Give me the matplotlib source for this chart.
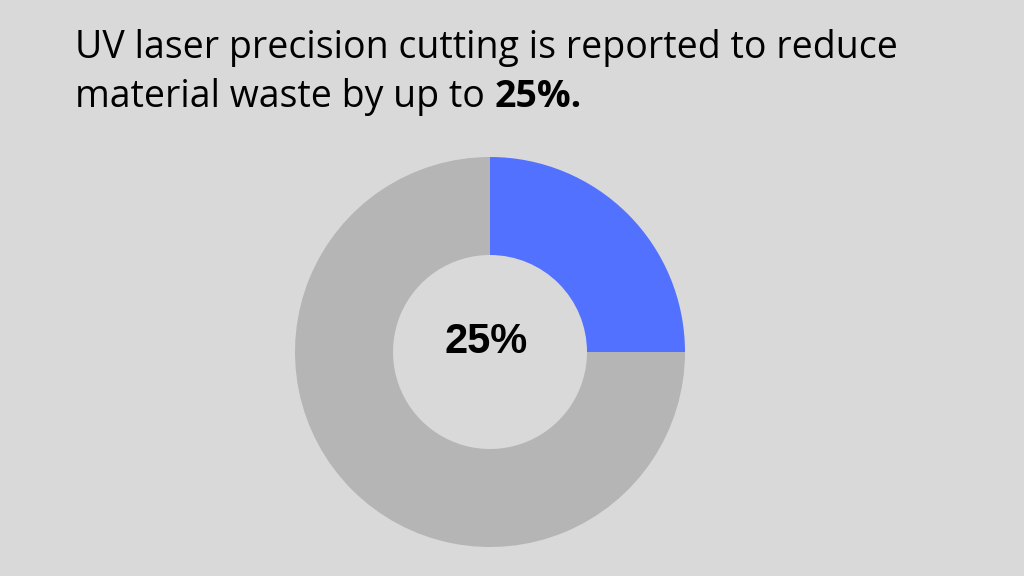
import matplotlib.pyplot as plt

# Anteile fuer den Donut
labels = ['Reduzierter Abfall', 'Rest']
werte = [25, 75]
farben = ['#5271ff', '#b5b5b5']
mitte_text = '25%'
titel_1 = 'UV laser precision cutting is reported to reduce'
titel_2a = 'material waste by up to '
titel_2b = '25%.'

W, H = 1024, 576
fig = plt.figure(figsize=(W / 100, H / 100), dpi=100)
fig.patch.set_facecolor('#d9d9d9')

# Donut-Achse: Mittelpunkt (490, 352) px, Radius 195 px
cx, cy, r = 490, 352, 195
ax = fig.add_axes([(cx - r) / W, (H - cy - r) / H, 2 * r / W, 2 * r / H])
ax.pie(werte, colors=farben, startangle=90, counterclock=False, radius=1,
       wedgeprops=dict(width=1 - 97 / 195, linewidth=0))
ax.set_xlim(-1, 1)
ax.set_ylim(-1, 1)
ax.set_aspect('equal')
ax.axis('off')
ax.text(-0.02, 0.05, mitte_text, ha='center', va='center', fontsize=30,
        fontweight='bold', family='Liberation Sans', color='black')

# Titel
fs = 27
fig.text(75 / W, 1 - 58 / H, titel_1, fontsize=fs, family='Open Sans',
         color='black', va='baseline')
t2 = fig.text(75 / W, 1 - 107 / H, titel_2a, fontsize=fs, family='Open Sans',
              color='black', va='baseline')
fig.canvas.draw()
bb = t2.get_window_extent()
fig.text(bb.x1 / W, 1 - 107 / H, titel_2b, fontsize=fs, family='Open Sans',
         fontweight='bold', color='black', va='baseline')

fig.savefig('out.png', dpi=100, facecolor=fig.get_facecolor())
